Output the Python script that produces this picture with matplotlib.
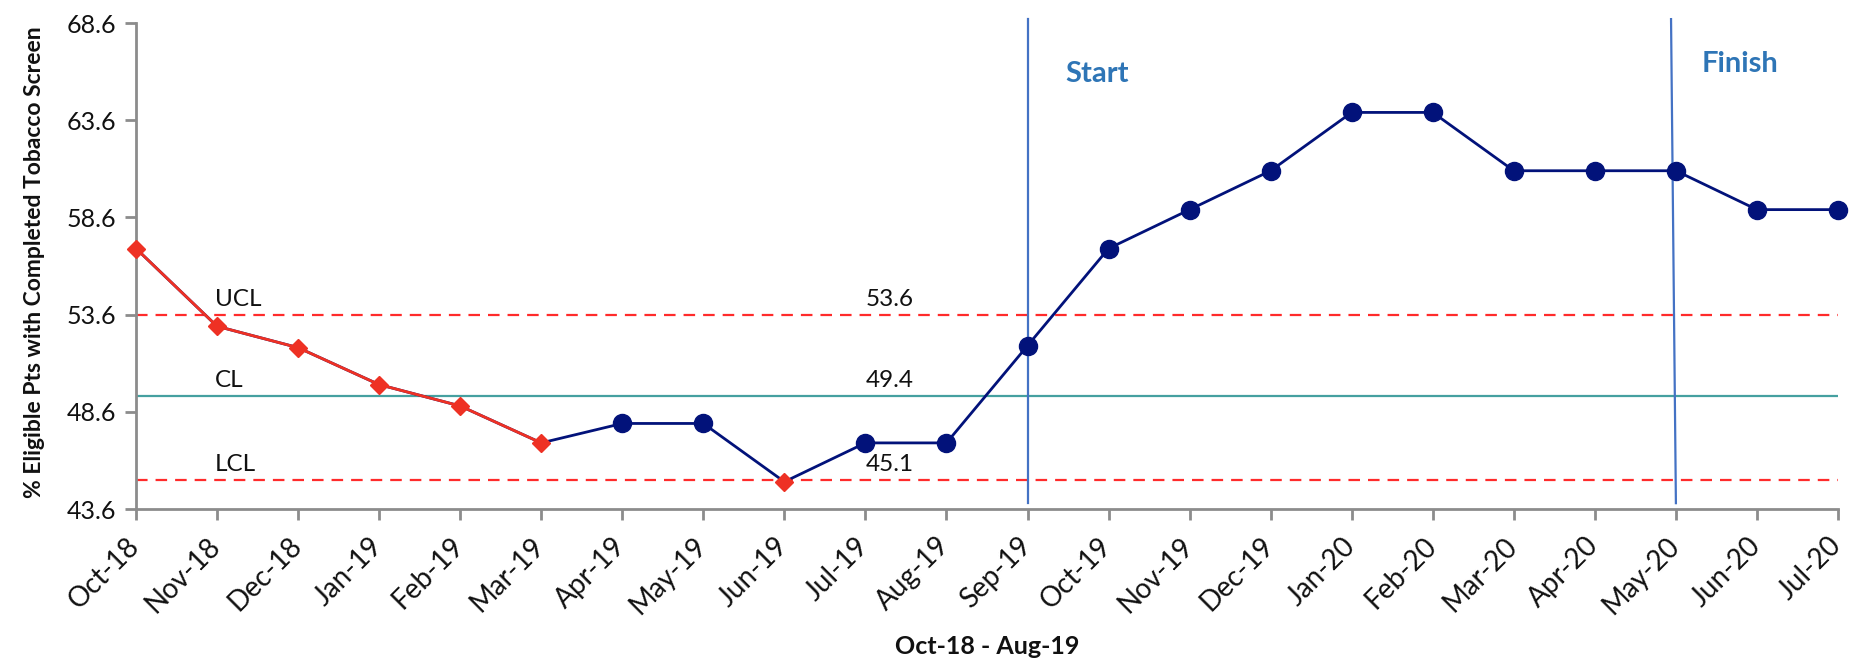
import matplotlib
matplotlib.use("Agg")
import matplotlib.pyplot as plt
from matplotlib.transforms import ScaledTranslation

months = ["Oct-18", "Nov-18", "Dec-18", "Jan-19", "Feb-19", "Mar-19", "Apr-19", "May-19",
          "Jun-19", "Jul-19", "Aug-19", "Sep-19", "Oct-19", "Nov-19", "Dec-19", "Jan-20",
          "Feb-20", "Mar-20", "Apr-20", "May-20", "Jun-20", "Jul-20"]
values = [57.0, 53.0, 51.9, 50.0, 48.9, 47.0, 48.0, 48.0, 45.0, 47.0, 47.0, 52.0,
          57.0, 59.0, 61.0, 64.0, 64.0, 61.0, 61.0, 61.0, 59.0, 59.0]
signal_idx = [0, 1, 2, 3, 4, 5, 8]   # points flagged red (diamonds)
ucl, cl, lcl = 53.6, 49.4, 45.1
yticks = [43.6, 48.6, 53.6, 58.6, 63.6, 68.6]
start_idx, finish_idx = 11, 19

plt.rcParams['font.family'] = ['Lato', 'DejaVu Sans']

NAVY = '#02127A'
RED = '#EE3124'
W, H = 1850, 663
fig = plt.figure(figsize=(W / 100, H / 100), dpi=100)
ax = fig.add_axes([136/W, 1-509/H, (1838-136)/W, (509-23)/H])

x = list(range(len(values)))
# control lines
ax.axhline(ucl, color='#FF2B2B', lw=1.6, ls=(0, (5.2, 3.6)), zorder=1)
ax.axhline(lcl, color='#FF2B2B', lw=1.6, ls=(0, (5.2, 3.6)), zorder=1)
ax.axhline(cl, color='#45A0A0', lw=1.6, zorder=1)

# main line
ax.plot(x, values, color=NAVY, lw=2.0, zorder=3, clip_on=False)
red_run = [i for i in range(6)]
ax.plot(red_run, [values[i] for i in red_run], color=RED, lw=2.0, zorder=4, clip_on=False)
blue_pts = [i for i in x if i not in signal_idx]
ax.plot(blue_pts, [values[i] for i in blue_pts], ls='none', marker='o', ms=13,
        color=NAVY, zorder=5, clip_on=False)
ax.plot(signal_idx, [values[i] for i in signal_idx], ls='none', marker='D', ms=9.5,
        color=RED, zorder=5, clip_on=False)

# start / finish markers
ax.plot([start_idx, start_idx], [43.9, 68.8], color='#4472C4', lw=1.6, zorder=2, clip_on=False)
ax.plot([finish_idx - 0.06, finish_idx], [68.8, 43.9], color='#4472C4', lw=1.6, zorder=2, clip_on=False)
ax.text(start_idx + 0.86, 66.0, "Start", color='#2E75B6', fontsize=21, fontweight='bold',
        ha='center', va='center')
ax.text(finish_idx + 0.79, 66.5, "Finish", color='#2E75B6', fontsize=21, fontweight='bold',
        ha='center', va='center')

# control labels
for lab, val in [("UCL", ucl), ("CL", cl), ("LCL", lcl)]:
    ax.text(0.97, val + 0.25, lab, fontsize=17.5, ha='left', va='bottom', color='#111111')
    ax.text(9.0, val + 0.25, f"{val:.1f}", fontsize=17.5, ha='left', va='bottom', color='#111111')

ax.set_xlim(0, len(values) - 1)
ax.set_ylim(43.6, 68.6)
ax.set_yticks(yticks)
ax.set_yticklabels([f"{v:.1f}" for v in yticks])
ax.set_xticks(x)
ax.set_xticklabels(months, rotation=45, ha='right', rotation_mode='anchor')
ax.tick_params(axis='both', color='#8C8C8C', width=2, length=8, labelcolor='#111111')
ax.tick_params(axis='y', labelsize=18, pad=6)
ax.tick_params(axis='x', labelsize=20, pad=6)
shift = ScaledTranslation(-10/100, -4/100, fig.dpi_scale_trans)
for lbl in ax.get_xticklabels():
    lbl.set_transform(lbl.get_transform() + shift)
for s in ['top', 'right']:
    ax.spines[s].set_visible(False)
for s in ['left', 'bottom']:
    ax.spines[s].set_color('#8C8C8C')
    ax.spines[s].set_linewidth(2)

fig.text(35/W, 1-262/H, "% Eligible Pts with Completed Tobacco Screen", fontsize=16.5,
         fontweight='bold', rotation=90, ha='center', va='center', color='#111111')
fig.text(987/W, 1-647/H, "Oct-18 - Aug-19", fontsize=18, fontweight='bold',
         ha='center', va='center', color='#111111')

fig.savefig("out.png", dpi=100)
